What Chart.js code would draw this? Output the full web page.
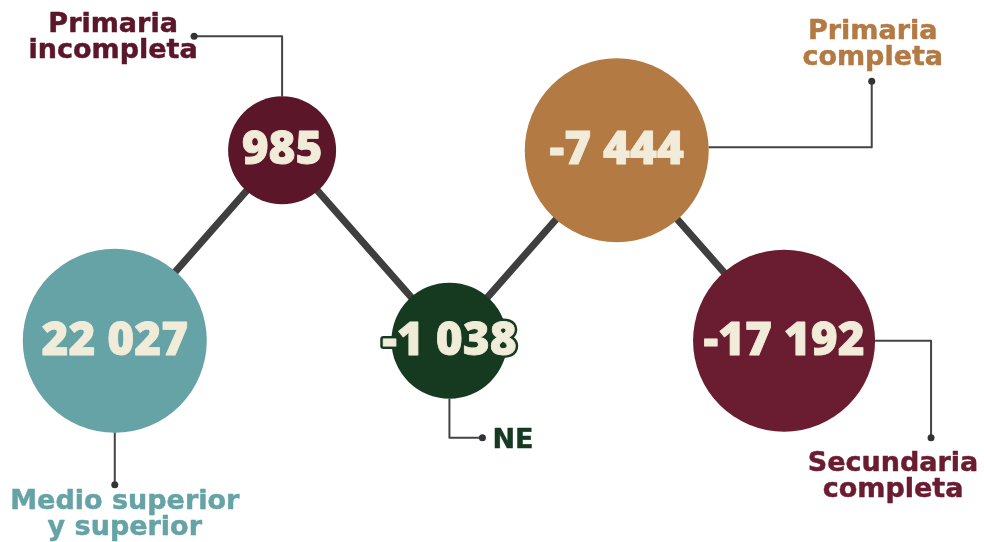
<!DOCTYPE html>
<html>
<head>
<meta charset="utf-8">
<script src="https://cdn.jsdelivr.net/npm/chart.js@4"></script>
<style>
  html, body { margin: 0; padding: 0; background: #fff; }
  #wrap { width: 984px; height: 542px; }
</style>
</head>
<body>
<div id="wrap"><canvas id="chart" width="984" height="542"></canvas></div>
<script>
// data
const categories = [
    ['Medio superior', 'y superior'],
    ['Primaria', 'incompleta'],
    ['NE'],
    ['Primaria', 'completa'],
    ['Secundaria', 'completa']
];
const values = [22027, 985, -1038, -7444, -17192];
const rows = [0, 1, 0, 1, 0];  // zigzag: 0 = bottom row, 1 = top row

// styles
const bubbleColors = ['#66a3a6', '#5b1729', '#163a20', '#b37a43', '#6a1c30'];
const labelColors = ['#66a3a6', '#5b1729', '#163a20', '#b37a43', '#6a1c30'];
const radii = [92, 54, 58, 92, 91];
const valueColor = '#f1ecd9';

// leader lines and label placement, relative to bubble center
const leaders = [
    { path: [[0, 92], [0, 144]], text: [10, 161], align: 'center' },
    { path: [[0, -54], [0, -114], [-88, -114]], text: [-169, -125], align: 'center' },
    { path: [[0, 58], [0, 97], [33, 97]], text: [43, 100], align: 'left' },
    { path: [[92, -3], [255, -3], [255, -69]], text: [256, -118], align: 'center' },
    { path: [[91, 0], [147, 0], [147, 97]], text: [109, 123], align: 'center' }
];

function fmt(v) {
    let s = String(Math.abs(v)).replace(/\B(?=(\d{3})+(?!\d))/g, ' ');
    return (v < 0 ? '-' : '') + s;
}

const labelPlugin = {
    id: 'bubbleLabels',
    afterDatasetsDraw(chart) {
        const ctx = chart.ctx;
        const meta = chart.getDatasetMeta(0);
        ctx.save();
        ctx.lineJoin = 'round';
        meta.data.forEach((pt, i) => {
            const x = pt.x, y = pt.y;
            const l = leaders[i];
            // leader line
            ctx.strokeStyle = '#444';
            ctx.lineWidth = 2;
            ctx.beginPath();
            l.path.forEach((p, j) => {
                if (j === 0) ctx.moveTo(x + p[0], y + p[1]);
                else ctx.lineTo(x + p[0], y + p[1]);
            });
            ctx.stroke();
            const end = l.path[l.path.length - 1];
            ctx.fillStyle = '#333';
            ctx.beginPath();
            ctx.arc(x + end[0], y + end[1], 3.5, 0, Math.PI * 2);
            ctx.fill();

            // category label
            ctx.font = 'bold 27px "DejaVu Sans"';
            ctx.fillStyle = labelColors[i];
            ctx.strokeStyle = labelColors[i];
            ctx.lineWidth = 0.5;
            ctx.textAlign = l.align;
            ctx.textBaseline = 'middle';
            categories[i].forEach((line, k) => {
                ctx.fillText(line, x + l.text[0], y + l.text[1] + k * 26);
                ctx.strokeText(line, x + l.text[0], y + l.text[1] + k * 26);
            });

            // value inside bubble
            const txt = fmt(values[i]);
            ctx.font = '800 46px "Open Sans"';
            ctx.textAlign = 'center';
            ctx.strokeStyle = bubbleColors[i];
            ctx.lineWidth = 6;
            ctx.strokeText(txt, x, y + 1);
            ctx.fillStyle = valueColor;
            ctx.strokeStyle = valueColor;
            ctx.lineWidth = 0.8;
            ctx.fillText(txt, x, y + 1);
            ctx.strokeText(txt, x, y + 1);
        });
        ctx.restore();
    }
};

new Chart(document.getElementById('chart'), {
    type: 'line',
    data: {
        datasets: [{
            data: rows.map((r, i) => ({ x: i, y: r })),
            borderColor: '#3f3f3f',
            borderWidth: 7,
            pointRadius: radii,
            pointBackgroundColor: bubbleColors,
            pointBorderWidth: 0,
            pointHoverRadius: radii,
            tension: 0,
            clip: false
        }]
    },
    options: {
        responsive: false,
        animation: false,
        layout: { padding: 0, autoPadding: false },
        plugins: { legend: { display: false }, tooltip: { enabled: false } },
        scales: {
            x: { type: 'linear', display: false, min: -0.686, max: 5.195 },
            y: { type: 'linear', display: false, min: -1.058, max: 1.79 }
        }
    },
    plugins: [labelPlugin]
});
</script>
</body>
</html>
